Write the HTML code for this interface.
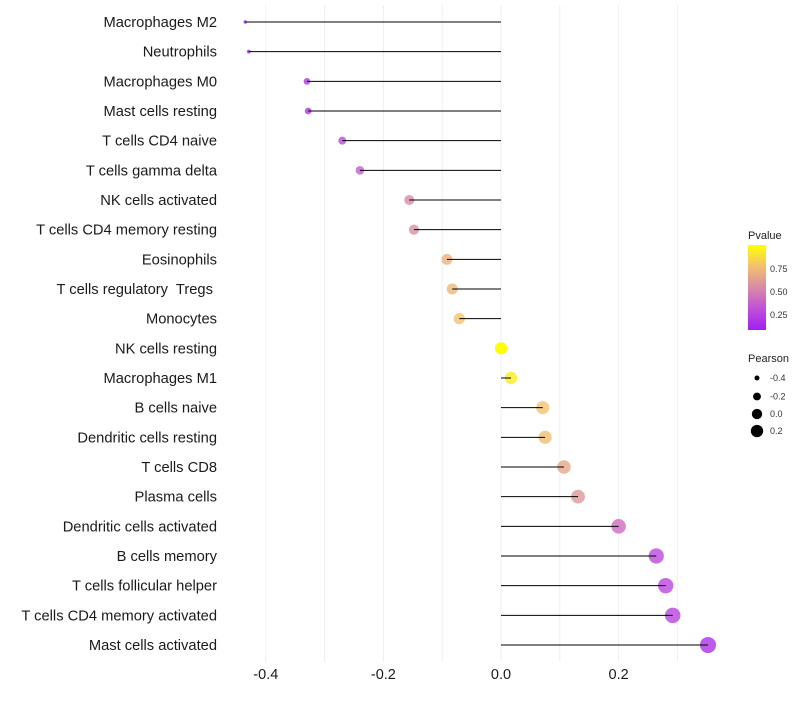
<!DOCTYPE html>
<html><head><meta charset="utf-8"><style>
body{margin:0;background:#fff;font-family:"Liberation Sans",sans-serif;}
text{white-space:pre;}
</style></head><body>
<svg id="chart" width="800" height="700" xmlns="http://www.w3.org/2000/svg">
<defs>
<linearGradient id="pg" x1="0" y1="1" x2="0" y2="0">
<stop offset="0" stop-color="#a020f0"/><stop offset="0.25" stop-color="#c050d8"/><stop offset="0.5" stop-color="#d88aa6"/><stop offset="0.75" stop-color="#f2c070"/><stop offset="1" stop-color="#ffff00"/>
</linearGradient>
</defs>
<g id="grid"></g><g id="marks"></g><g id="ylabels"></g><g id="xlabels"></g>
<g>
<text x="748" y="239" font-size="11" fill="#222">Pvalue</text>
<rect x="748" y="245" width="18" height="85" fill="url(#pg)"/>
<text x="770" y="272" font-size="9" fill="#333">0.75</text>
<text x="770" y="295" font-size="9" fill="#333">0.50</text>
<text x="770" y="318" font-size="9" fill="#333">0.25</text>
</g>
<g id="sizeLegend">
<text x="748" y="362" font-size="11" fill="#222">Pearson</text>
</g>
</svg>
<script>
const categories=["Macrophages M2","Neutrophils","Macrophages M0","Mast cells resting","T cells CD4 naive","T cells gamma delta","NK cells activated","T cells CD4 memory resting","Eosinophils","T cells regulatory  Tregs ","Monocytes","NK cells resting","Macrophages M1","B cells naive","Dendritic cells resting","T cells CD8","Plasma cells","Dendritic cells activated","B cells memory","T cells follicular helper","T cells CD4 memory activated","Mast cells activated"];
const pearson=[-0.435,-0.429,-0.33,-0.328,-0.27,-0.24,-0.156,-0.148,-0.092,-0.083,-0.071,0.0,0.017,0.071,0.075,0.107,0.131,0.2,0.264,0.28,0.292,0.352];
const pvalue=[0.01,0.01,0.12,0.12,0.22,0.3,0.5,0.52,0.68,0.71,0.75,1.0,0.93,0.75,0.74,0.63,0.56,0.37,0.22,0.2,0.18,0.1];
const xTicks=[-0.4,-0.2,0.0,0.2];
const xTickLabels=["-0.4","-0.2","0.0","0.2"];
const gridVals=[-0.4,-0.3,-0.2,-0.1,0.0,0.1,0.2,0.3];
const legendSizes=[-0.4,-0.2,0.0,0.2];
const legendSizeLabels=["-0.4","-0.2","0.0","0.2"];

const NS="http://www.w3.org/2000/svg";
const xs=v=>501+v*588;
const ys=i=>22+i*(623/21);
const rs=v=>1.15*Math.sqrt(Math.max(1,28.1+59.4*v));
const stops=[[0,[160,32,240]],[0.25,[192,80,216]],[0.5,[216,138,166]],[0.75,[242,192,112]],[1,[255,255,0]]];
function col(p){p=Math.max(0,Math.min(1,p));for(let k=1;k<stops.length;k++){if(p<=stops[k][0]){const a=stops[k-1],b=stops[k];const t=(p-a[0])/(b[0]-a[0]);const c=a[1].map((x,j)=>Math.round(x+(b[1][j]-x)*t));return `rgb(${c.join(',')})`;}}return "rgb(255,255,0)";}
function mk(t,at,parent){const e=document.createElementNS(NS,t);for(const k in at)e.setAttribute(k,at[k]);parent.appendChild(e);return e;}
const grid=document.getElementById('grid'),marks=document.getElementById('marks'),yl=document.getElementById('ylabels'),xl=document.getElementById('xlabels');
gridVals.forEach(v=>{const l=mk('line',{x1:xs(v),x2:xs(v),y1:5,y2:662,stroke:'#efefef','stroke-width':1},grid);

});
categories.forEach((c,i)=>{const y=ys(i);
const t=mk('text',{x:217,y:y+5,'text-anchor':'end','font-size':14.7,fill:'#1a1a1a'},yl);t.textContent=c;


const cc=mk('circle',{cx:xs(pearson[i]),cy:y,r:rs(pearson[i]),fill:col(pvalue[i]),'fill-opacity':pvalue[i]>0.97?1:0.8},marks);


const l=mk('line',{x1:xs(0),x2:xs(pearson[i]),y1:y,y2:y,stroke:'#000','stroke-width':1},marks);

});
xTicks.forEach((v,i)=>{const t=mk('text',{x:xs(v),y:679,'text-anchor':'middle','font-size':14.5,fill:'#1a1a1a'},xl);t.textContent=xTickLabels[i];

});
const sl=document.getElementById('sizeLegend');
legendSizes.forEach((v,i)=>{const r=Math.max(2.5,rs(v)*0.85);const y=[378,396.5,414,431][i];
const c=mk('circle',{cx:757,cy:y,r:r,fill:'#000'},sl);


const t=mk('text',{x:770,y:y+3,'font-size':9,fill:'#333'},sl);t.textContent=legendSizeLabels[i];

});
</script>
</body></html>
